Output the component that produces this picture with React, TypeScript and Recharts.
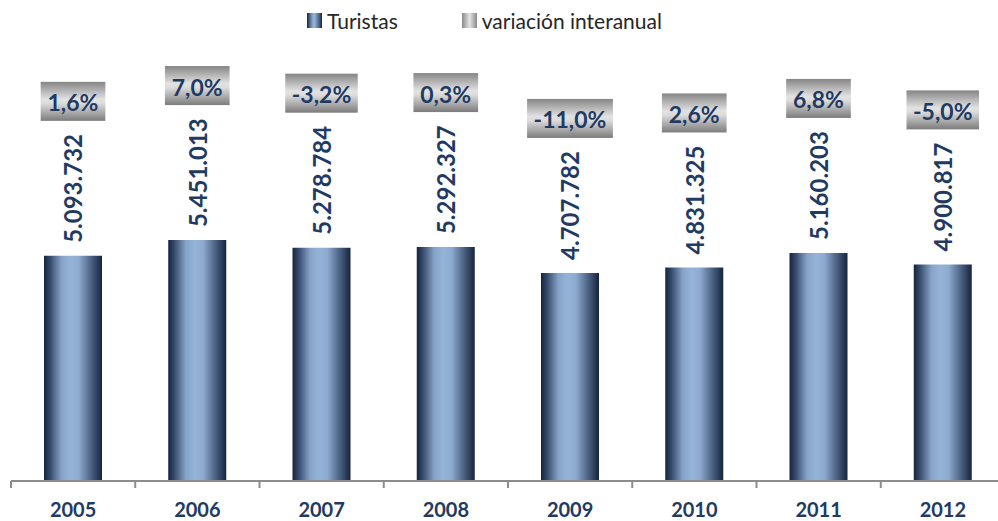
import React from 'react';
import { BarChart, Bar, XAxis, YAxis, Legend, LabelList } from 'recharts';

const years = ['2005', '2006', '2007', '2008', '2009', '2010', '2011', '2012'];
const turistas = [5093732, 5451013, 5278784, 5292327, 4707782, 4831325, 5160203, 4900817];
const variacion = [1.6, 7.0, -3.2, 0.3, -11.0, 2.6, 6.8, -5.0];

const data = years.map((year, i) => ({ year, turistas: turistas[i], variacion: variacion[i] }));

const CHART_W = 1005;
const CHART_H = 521;
const MARGIN = { top: 15, right: 0, bottom: 0, left: 11 };
const STEP = (CHART_W - MARGIN.left - MARGIN.right) / years.length;
const NAVY = '#1F3A63';
const AXIS_GREY = '#8c8c8c';
const FONT = 'Lato, "Noto Sans", sans-serif';

const fmtNum = (v: number) => String(v).replace(/\B(?=(\d{3})+(?!\d))/g, '.');
const fmtPct = (v: number) => v.toFixed(1).replace('.', ',') + '%';

// rough width of the percentage text, for sizing the grey box
const pctWidth = (s: string, size: number) => {
  let w = 0;
  for (const c of s) {
    if (c === ',') w += 0.26;
    else if (c === '%') w += 0.87;
    else if (c === '-') w += 0.34;
    else w += 0.58;
  }
  return w * size;
};

const ValueLabel = (props: any) => {
  const { x, y, width, value } = props;
  const cx = x + width / 2;
  const ty = y - 13;
  return (
    <text
      x={cx}
      y={ty}
      transform={`rotate(-90, ${cx}, ${ty})`}
      textAnchor="start"
      dominantBaseline="central"
      fill={NAVY}
      fontFamily={FONT}
      fontWeight={700}
      fontSize={24}
    >
      {fmtNum(value)}
    </text>
  );
};

const PctLabel = (props: any) => {
  const { x, y, width, value } = props;
  const label = fmtPct(value);
  const cx = x + width / 2;
  const boxW = pctWidth(label, 23) + 12;
  const boxH = 39;
  const bottom = y - 135;
  return (
    <g>
      <rect x={cx - boxW / 2} y={bottom - boxH} width={boxW} height={boxH} fill="url(#boxGrad)" />
      <text
        x={cx}
        y={bottom - boxH / 2 + 1}
        textAnchor="middle"
        dominantBaseline="central"
        fill={NAVY}
        fontFamily={FONT}
        fontWeight={700}
        fontSize={23}
      >
        {label}
      </text>
    </g>
  );
};

const YearTick = (props: any) => {
  const { x, y, payload, index } = props;
  return (
    <g>
      <line x1={x - STEP / 2} y1={y} x2={x - STEP / 2} y2={y + 7} stroke={AXIS_GREY} strokeWidth={2} />
      {index === years.length - 1 && (
        <line x1={x + STEP / 2} y1={y} x2={x + STEP / 2} y2={y + 7} stroke={AXIS_GREY} strokeWidth={2} />
      )}
      <text
        x={x}
        y={y + 28}
        textAnchor="middle"
        dominantBaseline="central"
        fill={NAVY}
        fontFamily={FONT}
        fontWeight={700}
        fontSize={20}
      >
        {payload.value}
      </text>
    </g>
  );
};

const LegendContent = () => (
  <div style={{ display: 'flex', alignItems: 'center', height: 24, fontFamily: FONT, fontSize: 21, color: '#262626' }}>
    <span
      style={{
        display: 'inline-block',
        width: 15,
        height: 15,
        marginRight: 5,
        background: 'linear-gradient(to right, #15243d, #86a2c8 35%, #95b3d7 50%, #4f6688 80%, #15243d)',
      }}
    />
    <span>Turistas</span>
    <span
      style={{
        display: 'inline-block',
        width: 15,
        height: 15,
        marginLeft: 64,
        marginRight: 5,
        background: 'linear-gradient(to right, #8a8a8a, #e4e4e4 50%, #8a8a8a)',
      }}
    />
    <span>variación interanual</span>
  </div>
);

const App: React.FC = () => {
  return (
    <div style={{ position: 'absolute', left: 0, top: 0, width: 998, height: 521, overflow: 'hidden', background: '#fff' }}>
      <BarChart width={CHART_W} height={CHART_H} data={data} margin={MARGIN}>
        <defs>
          <linearGradient id="barGrad" x1="0" y1="0" x2="1" y2="0">
            <stop offset="0%" stopColor="#15243d" />
            <stop offset="10%" stopColor="#34496a" />
            <stop offset="30%" stopColor="#86a2c8" />
            <stop offset="45%" stopColor="#95b3d7" />
            <stop offset="60%" stopColor="#8eaad0" />
            <stop offset="80%" stopColor="#4f6688" />
            <stop offset="100%" stopColor="#15243d" />
          </linearGradient>
          <linearGradient id="boxGrad" x1="0" y1="0" x2="0" y2="1">
            <stop offset="0%" stopColor="#858585" />
            <stop offset="45%" stopColor="#e2e2e2" />
            <stop offset="55%" stopColor="#dcdcdc" />
            <stop offset="100%" stopColor="#7c7c7c" />
          </linearGradient>
        </defs>
        <Legend
          verticalAlign="top"
          wrapperStyle={{ left: 307, top: 8, width: 'auto' }}
          content={() => <LegendContent />}
        />
        <XAxis
          dataKey="year"
          height={40}
          interval={0}
          tickLine={false}
          tickSize={0}
          tickMargin={0}
          axisLine={{ stroke: AXIS_GREY, strokeWidth: 2 }}
          tick={<YearTick />}
        />
        <YAxis hide domain={[0, 10000000]} />
        <Bar dataKey="turistas" fill="url(#barGrad)" barSize={58} isAnimationActive={false}>
          <LabelList dataKey="turistas" content={<ValueLabel />} />
          <LabelList dataKey="variacion" content={<PctLabel />} />
        </Bar>
      </BarChart>
    </div>
  );
};

export default App;
